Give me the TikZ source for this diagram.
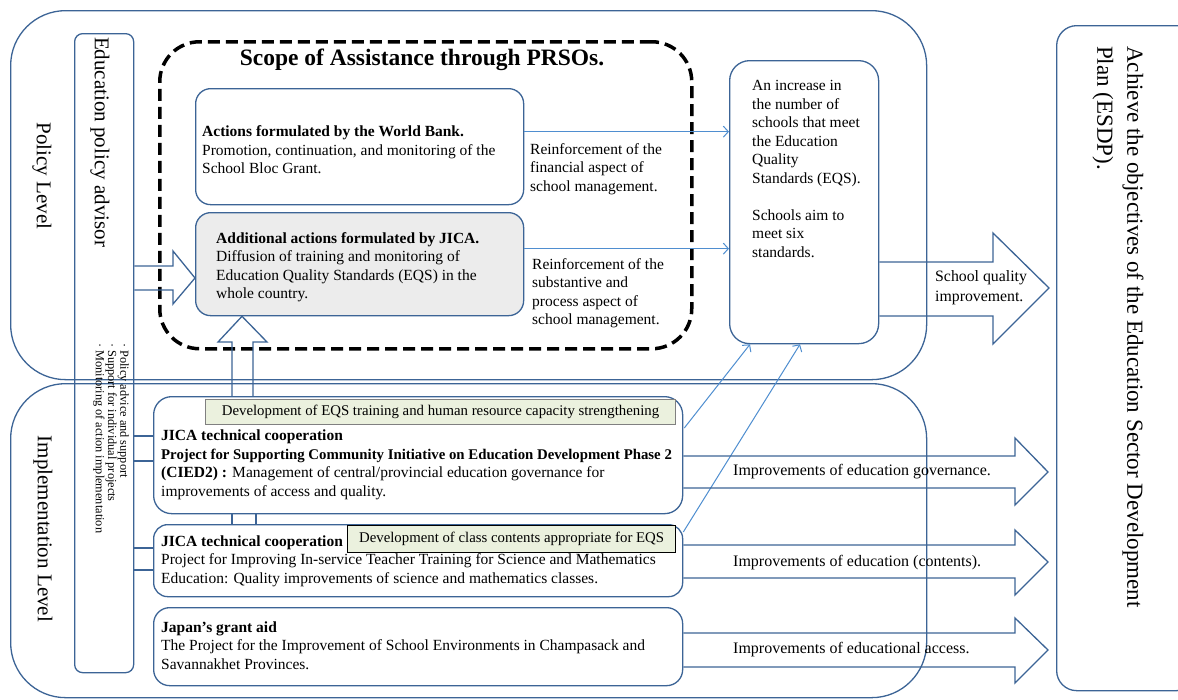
\documentclass[tikz,border=0pt]{standalone}
\usepackage{fontspec}
\setmainfont{Liberation Serif}
\usetikzlibrary{arrows.meta,calc}
\definecolor{boxblue}{RGB}{60,100,150}
\definecolor{arrblue}{RGB}{79,142,208}
\definecolor{lgreen}{RGB}{235,241,222}
\definecolor{lgray}{RGB}{236,236,236}
\begin{document}
\begin{tikzpicture}[x=1pt,y=-1pt,
  rbox/.style={draw=boxblue, line width=1.3pt, inner sep=0pt, anchor=north west},
  txt/.style={inner sep=0pt, align=left, anchor=west, font=\fontsize{15.5}{18.5}\selectfont},
  thinarr/.style={draw=arrblue, line width=1pt, -{Straight Barb[length=5pt,width=11pt]}},
  blk/.style={draw=boxblue, line width=1.3pt, line join=miter},
  dbl/.style={draw=boxblue, line width=1.3pt},
  vlab/.style={rotate=-90, inner sep=0pt, font=\fontsize{21}{24}\selectfont},
  impr/.style={inner sep=0pt, anchor=west, font=\fontsize{16}{19}\selectfont},
  greenlab/.style={fill=lgreen, inner sep=0pt, anchor=north west, font=\fontsize{14.8}{17}\selectfont}
]
\fill[white] (0,0) rectangle (1178,699);
\useasboundingbox (0,0) rectangle (1178,699);
\clip (0,0) rectangle (1178,699);

% large frames
\node[rbox, rounded corners=55pt, minimum width=916pt, minimum height=369pt] (policy) at (10,10) {};
\node[rbox, rounded corners=55pt, minimum width=916pt, minimum height=314pt] (impl) at (10,383) {};
\node[rbox, rounded corners=20pt, minimum width=140pt, minimum height=665pt] (goal) at (1056,25) {};
\node[rbox, rounded corners=8pt, minimum width=59pt, minimum height=639pt] (advisor) at (74,33) {};
\node[rbox, draw=black, line width=3.5pt, dash pattern=on 12pt off 6pt, rounded corners=40pt, minimum width=532pt, minimum height=307pt] (scope) at (158,40) {};

% boxes
\node[rbox, rounded corners=15pt, minimum width=328pt, minimum height=116pt] (wb) at (195,88) {};
\node[rbox, fill=lgray, rounded corners=15pt, minimum width=328pt, minimum height=103pt] (jica) at (195,212) {};
\node[rbox, rounded corners=20pt, minimum width=149pt, minimum height=283pt] (eqs) at (729,60) {};
\node[rbox, rounded corners=18pt, minimum width=529pt, minimum height=117pt] (cied) at (153,396) {};
\node[rbox, rounded corners=14pt, minimum width=529pt, minimum height=72pt] (teach) at (153,524) {};
\node[rbox, rounded corners=16pt, minimum width=529pt, minimum height=78pt] (grant) at (153,607) {};

\node[greenlab, draw=gray, line width=1pt, minimum width=470pt, minimum height=25pt] (g1) at (205,399) {Development of EQS training and human resource capacity strengthening};
\node[greenlab, draw=black, line width=1.2pt, minimum width=328pt, minimum height=27pt] (g2) at (347,525) {Development of class contents appropriate for EQS};

% vertical labels
\node[vlab] (pl) at (42,176) {Policy Level};
\node[vlab] (il) at (43,529) {Implementation Level};
\node[vlab] (ea) at (100,142) {Education policy advisor};
\node[rotate=-90, anchor=west, align=left, inner sep=0pt, font=\fontsize{12.3}{11}\selectfont] (bul) at (111,343) {· Policy advice and support\\ · Support for individual projects\\ · Monitoring of action implementation};
\node[rotate=-90, anchor=west, align=left, inner sep=0pt, font=\fontsize{23}{30}\selectfont] (goaltxt) at (1118,46) {Achieve the objectives of the Education Sector Development\\Plan (ESDP).};

% texts
\node[inner sep=0pt, font=\fontsize{23.5}{26}\selectfont\bfseries] (title) at (422,60) {Scope of Assistance through PRSOs.};
\node[txt] (wbt) at (202,150) {\textbf{Actions formulated by the World Bank.}\\Promotion, continuation, and monitoring of the\\School Bloc Grant.};
\node[txt] (jicat) at (216,267) {\textbf{Additional actions formulated by JICA.}\\Diffusion of training and monitoring of\\Education Quality Standards (EQS) in the\\whole country.};
\node[txt] (r1) at (530,169) {Reinforcement of the\\financial aspect of\\school management.};
\node[txt] (r2) at (532,293) {Reinforcement of the\\substantive and\\process aspect of\\school management.};
\node[txt] (eqst) at (752,169) {An increase in\\the number of\\schools that meet\\the Education\\Quality\\Standards (EQS).\\[18.5pt]Schools aim to\\meet six\\standards.};
\node[txt, font=\fontsize{15.8}{20}\selectfont] (sq) at (935,288) {School quality\\improvement.};

\node[txt] (ciedt) at (161,465) {\textbf{JICA technical cooperation}\\{\fontsize{14.8}{18.5}\selectfont\bfseries Project for Supporting Community Initiative on Education Development Phase 2}\\\textbf{(CIED2) :} Management of central/provincial education governance for\\improvements of access and quality.};
\node[txt] (teacht) at (161,561) {\textbf{JICA technical cooperation}\\Project for Improving In-service Teacher Training for Science and Mathematics\\Education: Quality improvements of science and mathematics classes.};
\node[txt] (grantt) at (161,645.5) {\textbf{Japan’s grant aid}\\The Project for the Improvement of School Environments in Champasack and\\Savannakhet Provinces.};

\node[impr] (i1) at (733,472) {Improvements of education governance.};
\node[impr] (i2) at (733,563) {Improvements of education (contents).};
\node[impr] (i3) at (733,650) {Improvements of educational access.};

% thin arrows
\coordinate (w1) at ($(wb.east)+(0,-15)$);
\coordinate (j1) at ($(jica.east)+(0,-15.5)$);
\draw[thinarr] (w1) -- (w1 -| eqs.west);
\draw[thinarr] (j1) -- (j1 -| eqs.west);
\coordinate (d1) at ($(cied.north east)+(1,32)$);
\coordinate (d2) at ($(teach.north east)+(0,8)$);
\coordinate (e1) at ($(eqs.south west)+(21,0)$);
\coordinate (e2) at ($(eqs.south west)+(71,0)$);
\draw[thinarr] (d1) -- (e1);
\draw[thinarr] (d2) -- (e2);

% block arrows
\draw[blk] (advisor.east |- 0,266) -- (173,266) -- (173,251) -- (jica.west |- 0,278) -- (173,304) -- (173,290) -- (advisor.east |- 0,290);
\draw[blk] (cied.north -| 232,0) -- (232,342) -- (218,342) -- (jica.south -| 242,0) -- (267,342) -- (253,342) -- (cied.north -| 253,0);
\draw[blk] (eqs.east |- 0,262) -- (993,262) -- (993,233) -- (1049,288) -- (993,344) -- (993,316) -- (eqs.east |- 0,316);
\draw[blk] (cied.east |- 0,456) -- (1015,456) -- (1015,438) -- (1048,472) -- (1015,505) -- (1015,488) -- (cied.east |- 0,488);
\draw[blk] (teach.east |- 0,545) -- (1015,545) -- (1015,530) -- (1048,562) -- (1015,595) -- (1015,578) -- (teach.east |- 0,578);
\draw[blk] (grant.east |- 0,633) -- (1015,633) -- (1015,618) -- (1048,650) -- (1015,683) -- (1015,667) -- (grant.east |- 0,667);

% double-line links
\draw[dbl] (cied.south -| 232,0) -- (teach.north -| 232,0);
\draw[dbl] (cied.south -| 256,0) -- (teach.north -| 256,0);
\draw[dbl] (advisor.east |- 0,436) -- (cied.west |- 0,436);
\draw[dbl] (advisor.east |- 0,461) -- (cied.west |- 0,461);
\draw[dbl] (advisor.east |- 0,548) -- (teach.west |- 0,548);
\draw[dbl] (advisor.east |- 0,570) -- (teach.west |- 0,570);
\end{tikzpicture}
\end{document}
